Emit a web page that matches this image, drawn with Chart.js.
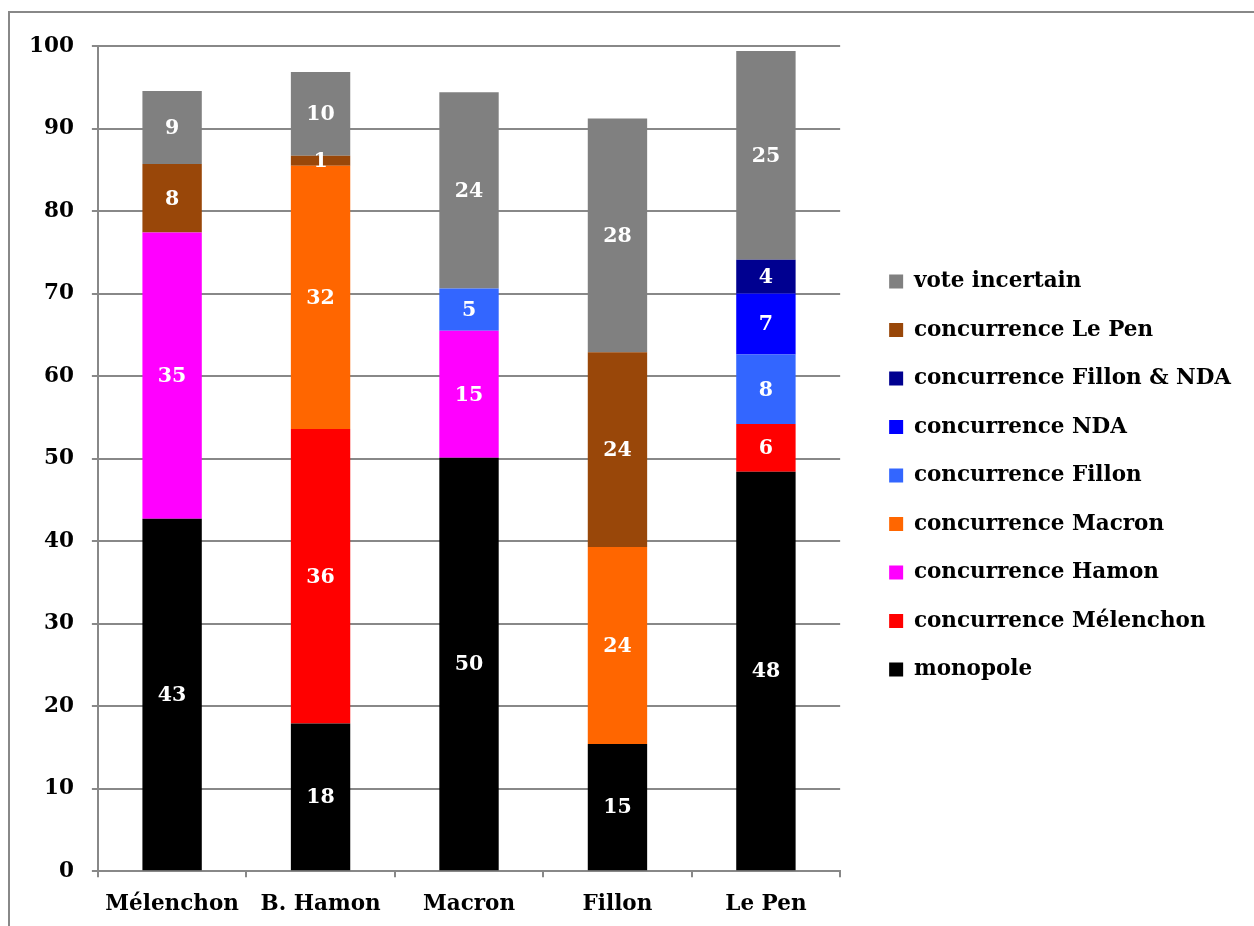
<!DOCTYPE html>
<html>
<head>
<meta charset="utf-8">
<script src="https://cdn.jsdelivr.net/npm/chart.js@4"></script>
<style>
    body { margin: 0; background: #fff; }
    #wrap { position: relative; width: 1254px; height: 926px; overflow: hidden; }
    #frame { position: absolute; left: 8px; top: 11px; width: 1300px; height: 1000px;
             border-left: 2px solid #888; border-top: 2px solid #888; }
    #chart { position: absolute; left: 0; top: 0; }
</style>
</head>
<body>
<div id="wrap">
    <div id="frame"></div>
    <canvas id="chart" width="1254" height="926"></canvas>
</div>
<script>
// candidates on the x axis
const categories = ['Mélenchon', 'B. Hamon', 'Macron', 'Fillon', 'Le Pen'];

// stacked segments, bottom to top (null = no segment)
const monopole          = [42.7, 17.9, 50.1, 15.4, 48.4];
const concMelenchon     = [null, 35.7, null, null, 5.8];
const concHamon         = [34.7, null, 15.4, null, null];
const concMacron        = [null, 31.9, null, 23.9, null];
const concFillon        = [null, null, 5.1, null, 8.4];
const concNDA           = [null, null, null, null, 7.4];
const concFillonNDA     = [null, null, null, null, 4.1];
const concLePen         = [8.3, 1.2, null, 23.6, null];
const voteIncertain     = [8.85, 10.15, 23.8, 28.3, 25.3];

const yTicks = [0, 10, 20, 30, 40, 50, 60, 70, 80, 90, 100];

const FONT = '"DejaVu Serif", serif';
const TEXT_SIZE = 21.5;

// white numbers in the middle of each segment
const segmentLabels = {
    id: 'segmentLabels',
    afterDatasetsDraw(chart) {
        const ctx = chart.ctx;
        ctx.save();
        ctx.font = 'bold 20.5px ' + FONT;
        ctx.fillStyle = '#fff';
        ctx.textAlign = 'center';
        ctx.textBaseline = 'middle';
        chart.data.datasets.forEach((ds, i) => {
            const meta = chart.getDatasetMeta(i);
            meta.data.forEach((bar, j) => {
                const v = ds.data[j];
                if (v === null || v === undefined) return;
                const p = bar.getProps(['x', 'y', 'base'], true);
                ctx.fillText(String(Math.round(v)), p.x, (p.y + p.base) / 2 + 1);
            });
        });
        ctx.restore();
    }
};

// push the legend a bit away from the plot area
const legendGap = {
    id: 'legendGap',
    afterLayout(chart) {
        if (chart.legend) {
            chart.legend.left += 22;
            chart.legend.right += 22;
            chart.legend.top -= 13;
            chart.legend.bottom -= 13;
        }
    }
};

function makeSet(label, data, color) {
    return {
        label: label,
        data: data,
        backgroundColor: color,
        borderWidth: 0,
        categoryPercentage: 1,
        barPercentage: 0.4
    };
}

Chart.defaults.color = '#000';

new Chart(document.getElementById('chart'), {
    type: 'bar',
    data: {
        labels: categories,
        datasets: [
            makeSet('monopole', monopole, '#000000'),
            makeSet('concurrence Mélenchon', concMelenchon, '#ff0000'),
            makeSet('concurrence Hamon', concHamon, '#ff00ff'),
            makeSet('concurrence Macron', concMacron, '#ff6600'),
            makeSet('concurrence Fillon', concFillon, '#3366ff'),
            makeSet('concurrence NDA', concNDA, '#0000ff'),
            makeSet('concurrence Fillon & NDA', concFillonNDA, '#000090'),
            makeSet('concurrence Le Pen', concLePen, '#994709'),
            makeSet('vote incertain', voteIncertain, '#808080')
        ]
    },
    options: {
        responsive: false,
        animation: false,
        layout: { padding: { left: 11, top: 46, right: 35, bottom: -5 } },
        plugins: {
            tooltip: { enabled: false },
            legend: {
                position: 'right',
                reverse: true,
                maxWidth: 440,
                labels: {
                    boxWidth: 14,
                    boxHeight: 14,
                    padding: 27,
                    color: '#000',
                    font: { family: FONT, size: TEXT_SIZE, weight: 'bold' }
                }
            }
        },
        scales: {
            x: {
                stacked: true,
                grid: { drawOnChartArea: false, offset: true, tickLength: 6, color: '#888', lineWidth: 2 },
                border: { color: '#888', width: 2 },
                ticks: { padding: 14, font: { family: FONT, size: TEXT_SIZE, weight: 'bold' } }
            },
            y: {
                stacked: true,
                min: 0,
                max: 100,
                afterBuildTicks: function(axis) {
                    axis.ticks = yTicks.map(v => ({ value: v }));
                },
                grid: { color: '#888', lineWidth: 2, tickLength: 6 },
                border: { color: '#888', width: 2 },
                ticks: { padding: 18, font: { family: FONT, size: TEXT_SIZE, weight: 'bold' } }
            }
        }
    },
    plugins: [segmentLabels, legendGap]
});
</script>
</body>
</html>
